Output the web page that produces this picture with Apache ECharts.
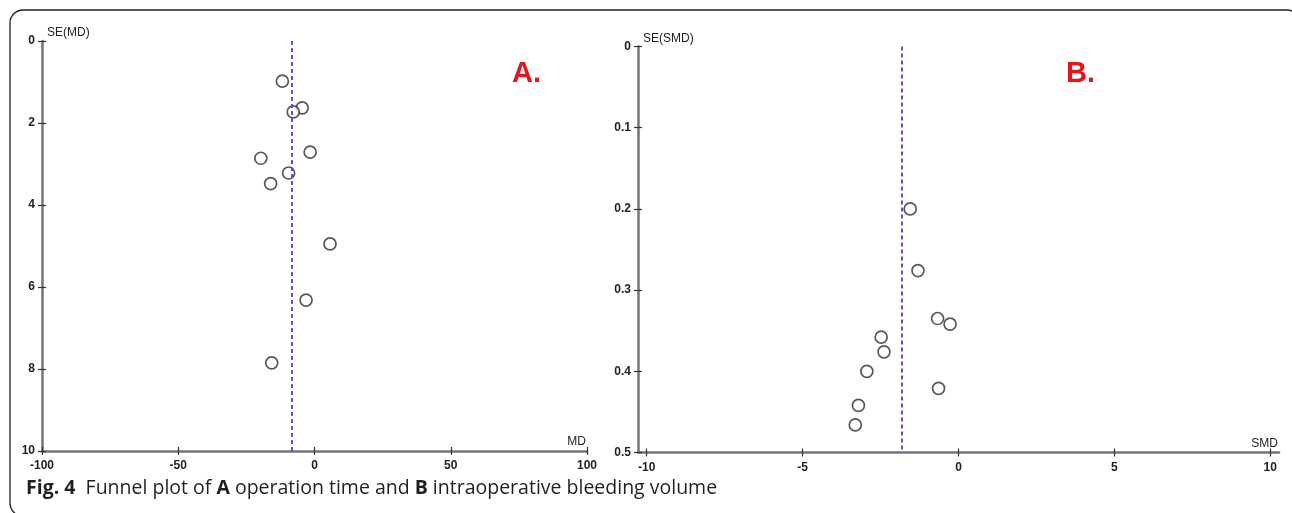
<!DOCTYPE html>
<html>
<head>
<meta charset="utf-8">
<script src="https://cdn.jsdelivr.net/npm/echarts@6/dist/echarts.min.js"></script>
<style>
  html, body { margin: 0; padding: 0; background: #fff; }
  #chart { width: 1292px; height: 513px; }
</style>
</head>
<body>
<div id="chart"></div>
<script>
// panel A: operation time (MD vs SE(MD))
const mdValues = [-11.8, -4.5, -7.8, -19.7, -1.6, -9.5, -16.1, 5.7, -3.1, -15.7];
const seMdValues = [0.98, 1.63, 1.73, 2.86, 2.71, 3.22, 3.48, 4.95, 6.32, 7.85];
const mdPooled = -8.4;

// panel B: intraoperative bleeding volume (SMD vs SE(SMD))
const smdValues = [-1.55, -1.30, -0.67, -0.27, -2.48, -2.39, -2.94, -0.64, -3.21, -3.31];
const seSmdValues = [0.200, 0.276, 0.335, 0.342, 0.358, 0.376, 0.400, 0.421, 0.442, 0.466];
const smdPooled = -1.82;

const smdTicks = [-10, -5, 0, 5, 10];

const chart = echarts.init(document.getElementById('chart'));

const lineGray = '#747474';
const tickColor = '#333';
const labelFont = { color: '#222', fontSize: 12, fontWeight: 'bold', fontFamily: 'Liberation Sans, Arial' };
const nameFont = { fontSize: 12, color: '#222', fontFamily: 'Liberation Sans, Arial' };

// each axis is drawn twice: outer ticks + line + labels, then inner ticks only,
// so the ticks cross the axis line like in the original figure
function innerCopy(main) {
  return Object.assign({}, main, {
    name: '',
    axisLine: { show: false, onZero: false },
    axisTick: Object.assign({}, main.axisTick, { inside: true }),
    axisLabel: Object.assign({}, main.axisLabel, { show: false })
  });
}

function xAxes(grid, min, max, opts, name) {
  const main = Object.assign({
    type: 'value', gridIndex: grid, min: min, max: max, position: 'bottom',
    name: name, nameLocation: 'end', nameGap: -1,
    nameTextStyle: Object.assign({ align: 'right', verticalAlign: 'bottom', padding: [0, 0, 3, 0] }, nameFont),
    axisLine: { show: true, onZero: false, lineStyle: { color: lineGray, width: 2.5 } },
    axisTick: { show: true, length: 4, lineStyle: { color: tickColor, width: 1.2 } },
    axisLabel: Object.assign({ margin: 9 }, labelFont),
    splitLine: { show: false }
  }, opts);
  return [main, innerCopy(main)];
}

function yAxes(grid, max, interval, name, fmt) {
  const main = {
    type: 'value', gridIndex: grid, min: 0, max: max, interval: interval, inverse: true,
    position: 'left',
    name: name, nameLocation: 'start', nameGap: 2,
    nameTextStyle: Object.assign({ align: 'left', verticalAlign: 'bottom', padding: [0, 0, 0, 5] }, nameFont),
    axisLine: { show: true, onZero: false, lineStyle: { color: lineGray, width: 2.5 } },
    axisTick: { show: true, length: 4, lineStyle: { color: tickColor, width: 1.2 } },
    axisLabel: Object.assign({ margin: 7, formatter: fmt }, labelFont),
    splitLine: { show: false }
  };
  return [main, innerCopy(main)];
}

function funnelSeries(xi, xs, ys, pooled) {
  return {
    type: 'scatter', xAxisIndex: xi, yAxisIndex: xi,
    data: xs.map((v, i) => [v, ys[i]]),
    symbol: 'circle', symbolSize: 12,
    itemStyle: { color: '#fff', borderColor: '#2e2e2e', borderWidth: 1.7 },
    silent: true,
    markLine: {
      silent: true, symbol: 'none', label: { show: false },
      lineStyle: { color: '#5a55c8', type: [4, 3], width: 2 },
      data: [{ xAxis: pooled }]
    }
  };
}

chart.setOption({
  backgroundColor: '#fff',
  animation: false,
  grid: [
    { left: 42, top: 41, width: 545, height: 410, outerBoundsMode: 'none' },
    { left: 638, top: 46.5, width: 641, height: 406, outerBoundsMode: 'none' }
  ],
  xAxis: [
    ...xAxes(0, -100, 100, { interval: 50 }, 'MD'),
    ...xAxes(1, -10.28, 10.28, {
      axisTick: { show: true, length: 4, customValues: smdTicks, lineStyle: { color: tickColor, width: 1.2 } },
      axisLabel: Object.assign({ margin: 9, customValues: smdTicks }, labelFont)
    }, 'SMD')
  ],
  yAxis: [
    ...yAxes(0, 10, 2, 'SE(MD)', v => String(v)),
    ...yAxes(1, 0.5, 0.1, 'SE(SMD)', v => (v === 0 ? '0' : v.toFixed(1)))
  ],
  series: [
    funnelSeries(0, mdValues, seMdValues, mdPooled),
    funnelSeries(2, smdValues, seSmdValues, smdPooled)
  ],
  graphic: [
    {
      type: 'rect', silent: true,
      shape: { x: 10, y: 10, width: 1290, height: 506, r: 13 },
      style: { fill: 'none', stroke: '#222', lineWidth: 1.3 }
    },
    {
      type: 'text', left: 512, top: 59,
      style: { text: 'A.', fill: '#e8141b', font: 'bold 29px "Liberation Sans", Arial' }
    },
    {
      type: 'text', left: 1066, top: 59,
      style: { text: 'B.', fill: '#e8141b', font: 'bold 29px "Liberation Sans", Arial' }
    },
    {
      type: 'text', left: 26, top: 478,
      style: {
        text: '{b|Fig. 4}  Funnel plot of {b|A} operation time and {b|B} intraoperative bleeding volume',
        fill: '#231f20', font: '19.5px "Open Sans"',
        rich: {
          b: { fontWeight: 'bold', fontFamily: 'Open Sans', fontSize: 19.5, fill: '#231f20' }
        }
      }
    }
  ]
});
</script>
</body>
</html>
